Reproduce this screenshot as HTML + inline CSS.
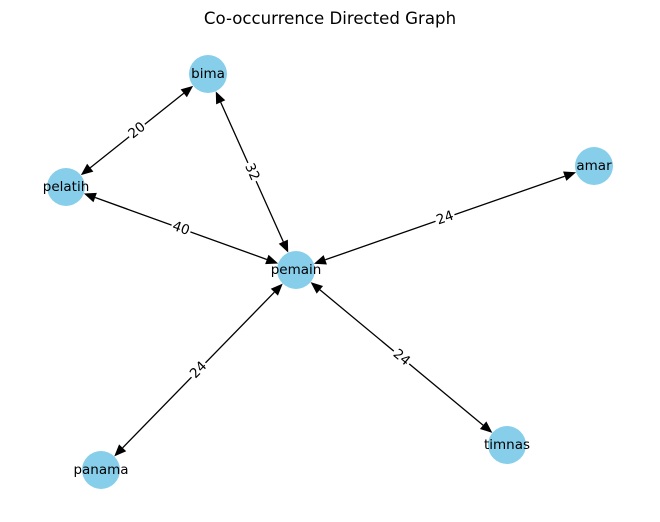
<!DOCTYPE html>
<html><head><meta charset="utf-8"><style>
html,body{margin:0;padding:0;background:#fff;}
svg{display:block;font-family:"DejaVu Sans","Liberation Sans",sans-serif;}
</style></head><body>
<svg id="g" width="660" height="522" viewBox="0 0 660 522">
<rect width="660" height="522" fill="#fff"/>
<text x="330" y="24" text-anchor="middle" font-size="16.6">Co-occurrence Directed Graph</text>
<g id="edges"></g>
<g id="nodes"></g>
<g id="elabels">
<text data-e="0" font-size="13.5" text-anchor="middle" dominant-baseline="central">20</text>
<text data-e="1" font-size="13.5" text-anchor="middle" dominant-baseline="central">32</text>
<text data-e="2" font-size="13.5" text-anchor="middle" dominant-baseline="central">40</text>
<text data-e="3" font-size="13.5" text-anchor="middle" dominant-baseline="central">24</text>
<text data-e="4" font-size="13.5" text-anchor="middle" dominant-baseline="central">24</text>
<text data-e="5" font-size="13.5" text-anchor="middle" dominant-baseline="central">24</text>
</g>
<g font-size="13.5" text-anchor="middle" dominant-baseline="central">
<text x="208" y="74">bima</text>
<text x="66" y="187">pelatih</text>
<text x="594" y="166">amar</text>
<text x="296" y="270">pemain</text>
<text x="101" y="470">panama</text>
<text x="507" y="445">timnas</text>
</g>
</svg>
<script>
var N={bima:[208,74],pelatih:[66,187],amar:[594,166],pemain:[296,270],panama:[101,470],timnas:[507,445]};
var E=[["bima","pelatih"],["bima","pemain"],["pelatih","pemain"],["amar","pemain"],["pemain","panama"],["pemain","timnas"]];
var ns="http://www.w3.org/2000/svg",eg=document.getElementById("edges"),ng=document.getElementById("nodes");
var R=19,L=12,W=5;
for(var k in N){var c=document.createElementNS(ns,"circle");c.setAttribute("cx",N[k][0]);c.setAttribute("cy",N[k][1]);c.setAttribute("r",R);c.setAttribute("fill","#87ceeb");ng.appendChild(c);}
E.forEach(function(e,i){
 var a=N[e[0]],b=N[e[1]],dx=b[0]-a[0],dy=b[1]-a[1],d=Math.hypot(dx,dy),ux=dx/d,uy=dy/d;
 var t1=[a[0]+ux*R,a[1]+uy*R],t2=[b[0]-ux*R,b[1]-uy*R];
 var l=document.createElementNS(ns,"line");
 l.setAttribute("x1",t1[0]+ux*L);l.setAttribute("y1",t1[1]+uy*L);l.setAttribute("x2",t2[0]-ux*L);l.setAttribute("y2",t2[1]-uy*L);
 l.setAttribute("stroke","#000");l.setAttribute("stroke-width","1.3");eg.appendChild(l);
 [[t1,1],[t2,-1]].forEach(function(p){var t=p[0],s=p[1],bx=t[0]+s*ux*L,by=t[1]+s*uy*L;
  var pg=document.createElementNS(ns,"polygon");
  pg.setAttribute("points",t[0]+","+t[1]+" "+(bx-uy*W)+","+(by+ux*W)+" "+(bx+uy*W)+","+(by-ux*W));
  pg.setAttribute("fill","#000");eg.appendChild(pg);});
 var mx=(a[0]+b[0])/2,my=(a[1]+b[1])/2,ang=Math.atan2(dy,dx)*180/Math.PI;
 if(ang>90)ang-=180;if(ang<-90)ang+=180;
 var tx=document.querySelector('[data-e="'+i+'"]');
 tx.setAttribute("x",mx);tx.setAttribute("y",my);tx.setAttribute("transform","rotate("+ang+" "+mx+" "+my+")");
 var r=document.createElementNS(ns,"rect");
 r.setAttribute("x",mx-10);r.setAttribute("y",my-8);r.setAttribute("width",20);r.setAttribute("height",16);r.setAttribute("fill","#fff");
 r.setAttribute("transform","rotate("+ang+" "+mx+" "+my+")");
 tx.parentNode.insertBefore(r,tx);
});
</script>
</body></html>
